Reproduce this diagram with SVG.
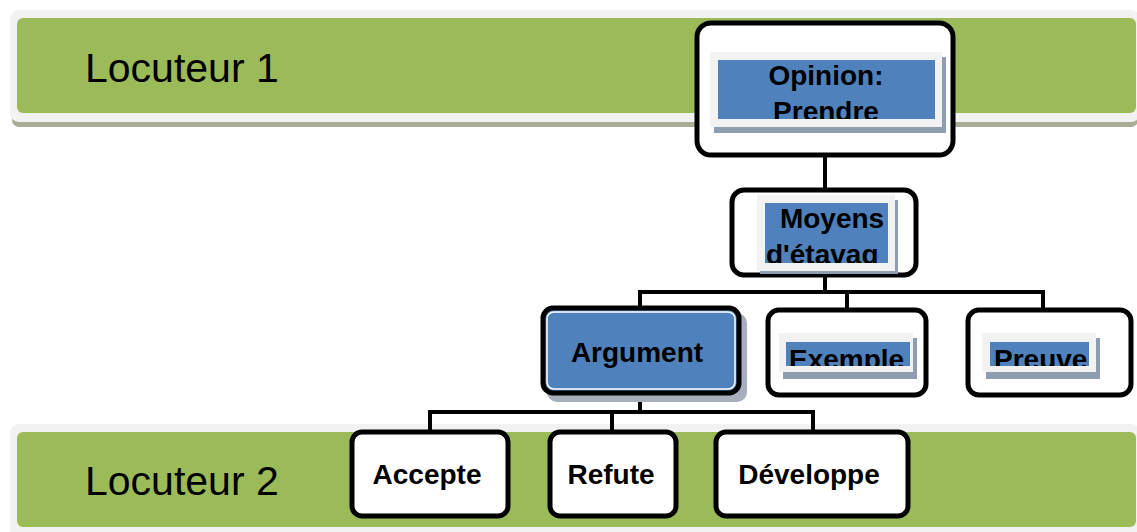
<svg xmlns="http://www.w3.org/2000/svg" width="1137" height="532" viewBox="0 0 1137 532">
<defs>
<style>
.frame{fill:#f2f2f2}
.band{fill:#9bbb59}
.bshadow{fill:#a7ae93}
.node{fill:#ffffff;stroke:#000000;stroke-width:5}
.light{fill:#f2f2f2}
.tshadow{fill:#8f9db1}
.hl{fill:#4f81bd}
.lbl{font-family:"Liberation Sans",Arial,sans-serif;font-weight:bold;font-size:28px;fill:#000000}
.loc{font-family:"Liberation Sans",Arial,sans-serif;font-size:41px;fill:#000000}
.conn{fill:none;stroke:#000000;stroke-width:4}
</style>
<clipPath id="cOp"><rect x="718" y="60" width="217" height="59"/></clipPath>
<clipPath id="cMo"><rect x="765" y="203" width="123" height="60"/></clipPath>
<clipPath id="cEx"><rect x="700" y="330" width="300" height="36"/></clipPath>
<clipPath id="cPr"><rect x="960" y="330" width="170" height="36"/></clipPath>
</defs>
<rect width="1137" height="532" fill="#ffffff"/>

<g id="locuteur1">
<rect class="bshadow" x="12" y="112" width="1126" height="15" rx="7"/>
<rect class="frame" x="10" y="10" width="1130" height="112" rx="9"/>
<rect class="band" x="17" y="18" width="1119" height="95" rx="6"/>
<text class="loc" x="85" y="82">Locuteur 1</text>
</g>

<g id="locuteur2">
<rect class="frame" x="10" y="424" width="1130" height="115" rx="9"/>
<rect class="band" x="17" y="432" width="1119" height="95" rx="6"/>
<text class="loc" x="85" y="495">Locuteur 2</text>
</g>

<g id="connectors">
<path class="conn" d="M825 157 V190"/>
<path class="conn" d="M825 277 V292 M640 308 V292 H1043 V310 M847 292 V310"/>
<path class="conn" d="M640 395 V412 M430 432 V412 H813 V432 M612 412 V432"/>
</g>

<g id="opinion">
<rect class="node" x="697" y="23" width="256" height="132" rx="14"/>
<rect class="tshadow" x="714" y="57" width="232" height="76"/>
<rect class="light" x="710" y="52" width="232" height="75"/>
<rect class="hl" x="718" y="60" width="217" height="59"/>
<g clip-path="url(#cOp)">
<text class="lbl" x="826" y="85" text-anchor="middle">Opinion:</text>
<text class="lbl" x="826" y="121" text-anchor="middle">Prendre</text>
</g>
</g>

<g id="moyens">
<rect class="node" x="732" y="190" width="184" height="85" rx="12"/>
<rect class="tshadow" x="760" y="200" width="138" height="74"/>
<rect class="light" x="757" y="195" width="138" height="76"/>
<rect class="hl" x="765" y="203" width="123" height="60"/>
<g clip-path="url(#cMo)">
<text class="lbl" x="832" y="228" text-anchor="middle">Moyens</text>
<text class="lbl" x="766" y="264">d'étavag</text>
</g>
</g>

<g id="argument">
<rect x="547" y="313" width="200" height="89" rx="10" fill="#a6aebb"/>
<rect x="543" y="308" width="196" height="85" rx="10" fill="#4f81bd" stroke="#000000" stroke-width="5"/>
<rect x="547" y="312" width="188" height="77" rx="7" fill="none" stroke="#ffffff" stroke-width="1.5"/>
<text class="lbl" x="637" y="362" text-anchor="middle">Argument</text>
</g>

<g id="exemple">
<rect class="node" x="768" y="310" width="158" height="85" rx="11"/>
<rect class="tshadow" x="783" y="338" width="134" height="41"/>
<rect class="light" x="779" y="333" width="134" height="39"/>
<rect class="hl" x="786" y="342" width="124" height="24"/>
<g clip-path="url(#cEx)">
<text class="lbl" x="789" y="369">Exemple</text>
</g>
</g>

<g id="preuve">
<rect class="node" x="968" y="310" width="163" height="85" rx="11"/>
<rect class="tshadow" x="986" y="338" width="114" height="41"/>
<rect class="light" x="982" y="333" width="114" height="39"/>
<rect class="hl" x="990" y="342" width="99" height="24"/>
<g clip-path="url(#cPr)">
<text class="lbl" x="994" y="369">Preuve</text>
</g>
</g>

<g id="accepte">
<rect class="node" x="352" y="432" width="156" height="84" rx="10"/>
<text class="lbl" x="427" y="484" text-anchor="middle">Accepte</text>
</g>

<g id="refute">
<rect class="node" x="550" y="432" width="126" height="84" rx="10"/>
<text class="lbl" x="611" y="484" text-anchor="middle">Refute</text>
</g>

<g id="developpe">
<rect class="node" x="716" y="432" width="192" height="84" rx="10"/>
<text class="lbl" x="809" y="484" text-anchor="middle">Développe</text>
</g>
</svg>
